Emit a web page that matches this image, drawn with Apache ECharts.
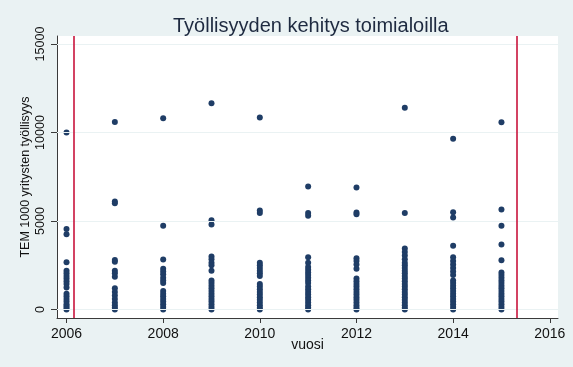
<!DOCTYPE html>
<html>
<head>
<meta charset="utf-8">
<script src="https://cdn.jsdelivr.net/npm/echarts@6/dist/echarts.min.js"></script>
<style>
html,body{margin:0;padding:0;background:#eaf2f3;}
#c{width:573px;height:367px;}
</style>
</head>
<body>
<div id="c"></div>
<script>
const years = [2006, 2007, 2008, 2009, 2010, 2011, 2012, 2013, 2014, 2015];
const v2006 = [10000, 4550, 4250, 2680, 2200, 2050, 1900, 1750, 1600, 1450, 1250, 900, 750, 600, 450, 300, 200, 100, 0];
const v2007 = [10600, 6100, 6000, 2800, 2700, 2200, 2050, 1850, 1200, 1000, 800, 600, 400, 250, 100, 0];
const v2008 = [10800, 4730, 2830, 2300, 2150, 2000, 1800, 1650, 1500, 1050, 900, 750, 600, 450, 300, 150, 0];
const v2009 = [11650, 5050, 4800, 3000, 2850, 2650, 2500, 2200, 1650, 1500, 1350, 1200, 1050, 900, 750, 600, 450, 300, 150, 0];
const v2010 = [10850, 5600, 5450, 2650, 2500, 2350, 2200, 2050, 1900, 1450, 1300, 1150, 1000, 850, 700, 550, 400, 250, 100, 0];
const v2011 = [6950, 5450, 5300, 2950, 2650, 2400, 2250, 2100, 1950, 1800, 1650, 1500, 1300, 1150, 1000, 850, 700, 550, 400, 250, 100, 0];
const v2012 = [6900, 5480, 5380, 2900, 2750, 2550, 2300, 1750, 1600, 1450, 1300, 1150, 1000, 850, 700, 550, 400, 250, 100, 0];
const v2013 = [11400, 5460, 3450, 3250, 3050, 2850, 2650, 2500, 2350, 2200, 2050, 1900, 1750, 1600, 1450, 1300, 1150, 1000, 850, 700, 550, 400, 250, 100, 0];
const v2014 = [9650, 5500, 5200, 3600, 2950, 2750, 2550, 2350, 2150, 1950, 1650, 1500, 1350, 1200, 1050, 900, 750, 600, 450, 300, 150, 0];
const v2015 = [10580, 5660, 4730, 3680, 2780, 2100, 1950, 1800, 1650, 1500, 1350, 1200, 1050, 900, 750, 600, 450, 300, 150, 0];
const valuesByYear = [v2006, v2007, v2008, v2009, v2010, v2011, v2012, v2013, v2014, v2015];
const xTicks = [2006, 2008, 2010, 2012, 2014, 2016];
const yTicks = [0, 5000, 10000, 15000];
const refLines = [2006.14, 2015.32];

const points = [];
years.forEach((y, i) => valuesByYear[i].forEach(v => points.push([y, v])));

const chart = echarts.init(document.getElementById('c'), null, {renderer: 'canvas'});
const FONT = 'Arial, "Liberation Sans", sans-serif';
chart.setOption({
  backgroundColor: '#eaf2f3',
  animation: false,
  title: {
    text: 'Työllisyyden kehitys toimialoilla',
    left: 168,
    top: 11,
    textStyle: {fontFamily: FONT, fontSize: 20, fontWeight: 'normal', color: '#1e2a40'}
  },
  grid: {left: 57, right: 15, top: 36, bottom: 49, show: true, backgroundColor: '#ffffff', borderWidth: 0},
  xAxis: {
    type: 'value',
    min: 2005.803,
    max: 2016.17,
    name: 'vuosi',
    nameLocation: 'middle',
    nameGap: 20,
    nameMoveOverlap: false,
    nameTextStyle: {fontFamily: FONT, fontSize: 14, color: '#111'},
    axisLine: {show: true, onZero: false, lineStyle: {color: '#3a3a3a', width: 1}},
    axisTick: {show: true, length: 5, customValues: xTicks, lineStyle: {color: '#3a3a3a'}},
    axisLabel: {customValues: xTicks, formatter: v => String(v), fontFamily: FONT, fontSize: 14, color: '#111', margin: 9},
    splitLine: {show: false}
  },
  yAxis: {
    type: 'value',
    min: -475,
    max: 15452,
    name: 'TEM 1000 yritysten työllisyys',
    nameLocation: 'middle',
    nameGap: 25,
    nameMoveOverlap: false,
    nameRotate: 90,
    nameTextStyle: {fontFamily: FONT, fontSize: 12.5, color: '#111'},
    axisLine: {show: true, onZero: false, lineStyle: {color: '#3a3a3a', width: 1}},
    axisTick: {show: true, length: 6, customValues: yTicks, lineStyle: {color: '#3a3a3a'}},
    axisLabel: {customValues: yTicks, formatter: v => String(v), rotate: 90, fontFamily: FONT, fontSize: 12.5, color: '#111', margin: 10},
    splitLine: {show: false}
  },
  series: [
    {
      type: 'scatter',
      name: 'grid',
      data: [],
      z: 1,
      silent: true,
      markLine: {
        symbol: 'none',
        silent: true,
        label: {show: false},
        lineStyle: {color: '#eaf2f3', width: 1, type: 'solid'},
        data: yTicks.map(v => ({yAxis: v}))
      }
    },
    {
      type: 'scatter',
      name: 'ref',
      data: [],
      z: 2,
      silent: true,
      markLine: {
        symbol: 'none',
        silent: true,
        label: {show: false},
        lineStyle: {color: '#c8143c', width: 1.6, type: 'solid'},
        data: refLines.map(v => ({xAxis: v}))
      }
    },
    {
      type: 'scatter',
      name: 'tyollisyys',
      data: points,
      z: 3,
      symbol: 'circle',
      symbolSize: 6,
      itemStyle: {color: '#1f3d66', opacity: 1}
    }
  ]
});
</script>
</body>
</html>
